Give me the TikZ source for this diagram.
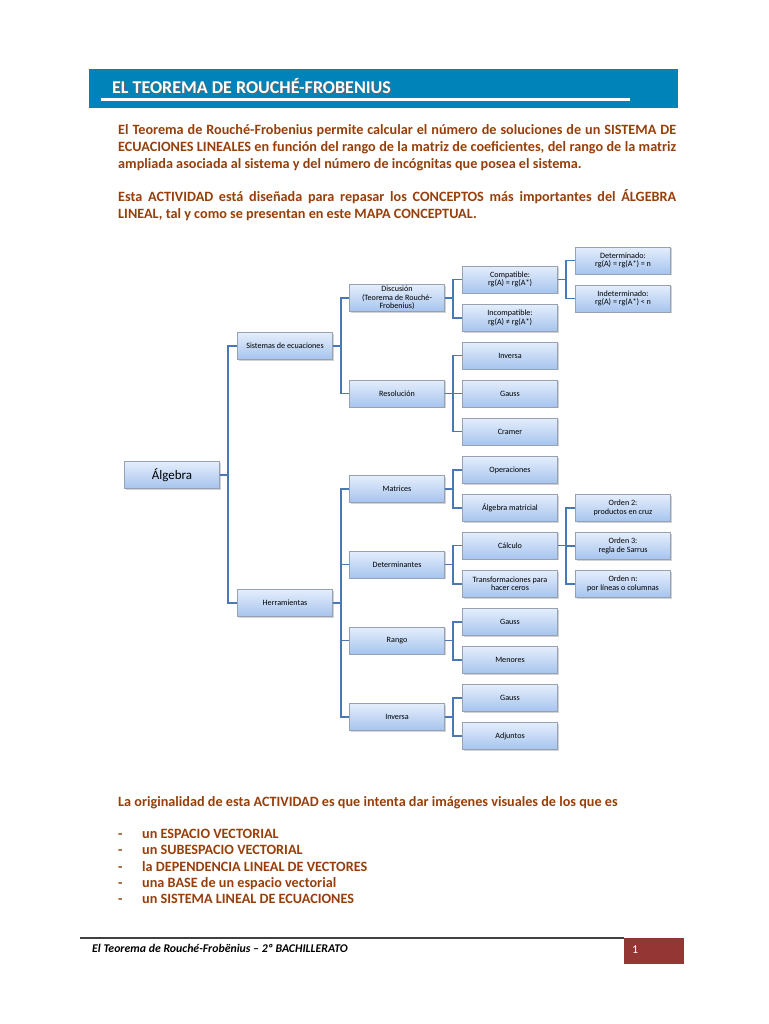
\documentclass[tikz,border=0pt]{standalone}
\usepackage{fontspec}
\setmainfont{Carlito}
\usetikzlibrary{positioning,shadows}

\definecolor{barblue}{RGB}{0,131,184}
\definecolor{txtbrown}{RGB}{151,63,10}
\definecolor{linkblue}{RGB}{74,120,180}
\definecolor{boxtop}{RGB}{228,238,252}
\definecolor{boxbot}{RGB}{166,196,238}
\definecolor{boxedge}{RGB}{150,162,180}
\definecolor{pagered}{RGB}{148,54,52}

\begin{document}
\begin{tikzpicture}[x=1pt, y=-1pt,
  box/.style={draw=boxedge, top color=boxtop, bottom color=boxbot, minimum width=95pt, minimum height=27pt, inner sep=1pt, align=center, font=\fontsize{8.1}{8.4}\selectfont, drop shadow={shadow xshift=1pt, shadow yshift=-1.3pt, opacity=0.35}},
  rootbox/.style={box, font=\fontsize{13}{15}\selectfont},
  link/.style={draw=linkblue, line width=1.8pt},
  para/.style={text=txtbrown, font=\bfseries\fontsize{14.2}{17}\selectfont, inner sep=0pt, anchor=north west}
]
\useasboundingbox[fill=white] (0,0) rectangle (768,1024);

% header
\fill[barblue] (89,69) rectangle (678,108);
\draw[white, line width=3pt] (101,100) -- (630,100);
\node[anchor=west, text=black!60, inner sep=0pt, font=\bfseries\fontsize{18}{20}\selectfont] at (113,87) {EL TEOREMA DE ROUCHÉ-FROBENIUS};
\node[anchor=west, text=white, inner sep=0pt, font=\bfseries\fontsize{18}{20}\selectfont] (title) at (112,86) {EL TEOREMA DE ROUCHÉ-FROBENIUS};

% intro text
\node[para, text width=558pt, align=justify] (intro) at (118,124) {El Teorema de Rouché-Frobenius permite calcular el número de soluciones de un SISTEMA DE\linebreak ECUACIONES LINEALES en función del rango de la matriz de coeficientes, del rango de la matriz\linebreak ampliada asociada al sistema y del número de incógnitas que posea el sistema.};
\node[para, text width=558pt, align=justify] (aim) at (118,189) {Esta ACTIVIDAD está diseñada para repasar los CONCEPTOS más importantes del ÁLGEBRA\linebreak LINEAL, tal y como se presentan en este MAPA CONCEPTUAL.};

% concept map
\node[rootbox] (alg) at (172,475) {Álgebra};
\node[box] (sis) at (285,346) {Sistemas de ecuaciones};
\node[box] (her) at (285,603) {Herramientas};

\node[box] (disc) at (397,298) {Discusión\\(Teorema de Rouché-\\Frobenius)};
\node[box] (res) at (397,393.5) {Resolución};
\node[box] (mat) at (397,489) {Matrices};
\node[box] (det) at (397,564.5) {Determinantes};
\node[box] (ran) at (397,640.5) {Rango};
\node[box] (inv) at (397,717) {Inversa};

\node[box] (comp) at (510,279.5) {Compatible:\\rg(A) = rg(A*)};
\node[box] (incomp) at (510,318) {Incompatible:\\rg(A) ≠ rg(A*)};
\node[box] (resinv) at (510,355.5) {Inversa};
\node[box] (resgauss) at (510,393.5) {Gauss};
\node[box] (cramer) at (510,431.5) {Cramer};
\node[box] (oper) at (510,470) {Operaciones};
\node[box] (algmat) at (510,508) {Álgebra matricial};
\node[box] (calc) at (510,545.5) {Cálculo};
\node[box] (transf) at (510,584) {Transformaciones para\\hacer ceros};
\node[box] (rgauss) at (510,622) {Gauss};
\node[box] (menores) at (510,660) {Menores};
\node[box] (igauss) at (510,698) {Gauss};
\node[box] (adj) at (510,736) {Adjuntos};

\node[box] (detm) at (623,260.5) {Determinado:\\rg(A) = rg(A*) = n};
\node[box] (indet) at (623,298.5) {Indeterminado:\\rg(A) = rg(A*) < n};
\node[box] (ord2) at (623,508) {Orden 2:\\productos en cruz};
\node[box] (ord3) at (623,546) {Orden 3:\\regla de Sarrus};
\node[box] (ordn) at (623,584) {Orden n:\\por líneas o columnas};

\draw[link] (alg.east) -- ++(8.5,0) |- (sis.west);
\draw[link] (alg.east) -- ++(8.5,0) |- (her.west);
\draw[link] (sis.east) -- ++(8.5,0) |- (disc.west);
\draw[link] (sis.east) -- ++(8.5,0) |- (res.west);
\draw[link] (disc.east) -- ++(8.5,0) |- (comp.west);
\draw[link] (disc.east) -- ++(8.5,0) |- (incomp.west);
\draw[link] (comp.east) -- ++(8.5,0) |- (detm.west);
\draw[link] (comp.east) -- ++(8.5,0) |- (indet.west);
\draw[link] (res.east) -- ++(8.5,0) |- (resinv.west);
\draw[link] (res.east) -- ++(8.5,0) |- (resgauss.west);
\draw[link] (res.east) -- ++(8.5,0) |- (cramer.west);
\draw[link] (her.east) -- ++(8.5,0) |- (mat.west);
\draw[link] (her.east) -- ++(8.5,0) |- (det.west);
\draw[link] (her.east) -- ++(8.5,0) |- (ran.west);
\draw[link] (her.east) -- ++(8.5,0) |- (inv.west);
\draw[link] (mat.east) -- ++(8.5,0) |- (oper.west);
\draw[link] (mat.east) -- ++(8.5,0) |- (algmat.west);
\draw[link] (det.east) -- ++(8.5,0) |- (calc.west);
\draw[link] (det.east) -- ++(8.5,0) |- (transf.west);
\draw[link] (calc.east) -- ++(8.5,0) |- (ord2.west);
\draw[link] (calc.east) -- ++(8.5,0) |- (ord3.west);
\draw[link] (calc.east) -- ++(8.5,0) |- (ordn.west);
\draw[link] (ran.east) -- ++(8.5,0) |- (rgauss.west);
\draw[link] (ran.east) -- ++(8.5,0) |- (menores.west);
\draw[link] (inv.east) -- ++(8.5,0) |- (igauss.west);
\draw[link] (inv.east) -- ++(8.5,0) |- (adj.west);

% closing text
\node[para] (orig) at (118,796) {La originalidad de esta ACTIVIDAD es que intenta dar imágenes visuales de los que es};
\node[para, align=left, font=\bfseries\fontsize{14.2}{16.3}\selectfont] (items) at (118,829) {\makebox[24pt][l]{-}un ESPACIO VECTORIAL\\
\makebox[24pt][l]{-}un SUBESPACIO VECTORIAL\\
\makebox[24pt][l]{-}la DEPENDENCIA LINEAL DE VECTORES\\
\makebox[24pt][l]{-}una BASE de un espacio vectorial\\
\makebox[24pt][l]{-}un SISTEMA LINEAL DE ECUACIONES};

% footer
\draw[black!75, line width=1.6pt] (80,938) -- (624,938);
\fill[pagered] (624,938) rectangle (684,964);
\node[anchor=west, font=\bfseries\itshape\fontsize{11.8}{13}\selectfont, inner sep=0pt] (foot) at (92,948) {El Teorema de Rouché-Frobënius – 2º BACHILLERATO};
\node[anchor=west, text=white, font=\fontsize{12}{14}\selectfont, inner sep=0pt] (page) at (632,950) {1};
\end{tikzpicture}
\end{document}
